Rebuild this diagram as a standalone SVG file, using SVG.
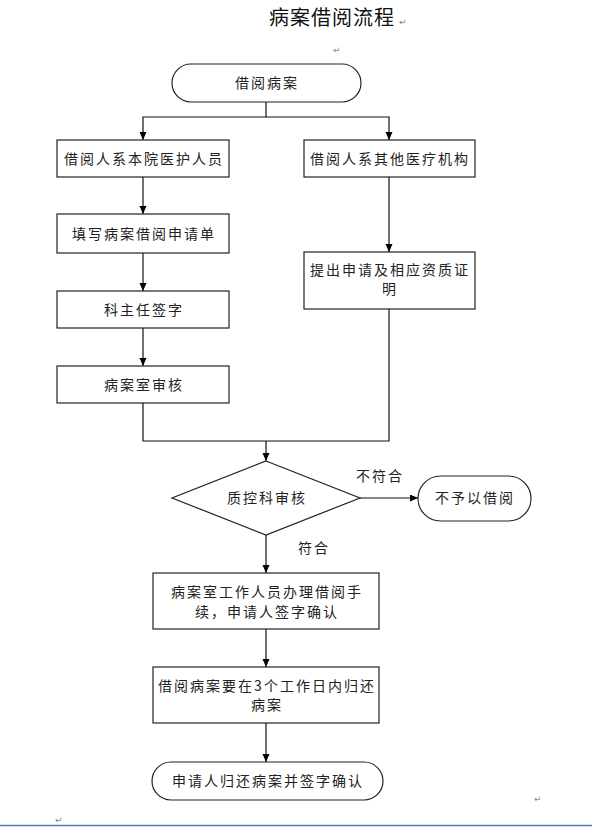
<svg xmlns="http://www.w3.org/2000/svg" width="592" height="827" viewBox="0 0 592 827">
<style>
.n{fill:#fff;stroke:#222;stroke-width:1.2}
.t{font-family:"Noto Sans CJK SC","Liberation Sans",sans-serif;font-size:14px;fill:#222;text-anchor:middle;letter-spacing:2px}
.c{fill:none;stroke:#111;stroke-width:1.2}
.pm{font-family:"DejaVu Sans",sans-serif;font-size:9px;fill:#888}
</style>
<defs>
<marker id="ah" markerWidth="8" markerHeight="8" refX="8" refY="3.5" orient="auto" markerUnits="userSpaceOnUse">
<path d="M0,0 L8,3.5 L0,7 z" fill="#000"/>
</marker>
</defs>
<rect width="592" height="827" fill="#fff"/>
<text x="332" y="25" font-family="Noto Sans CJK SC,sans-serif" font-size="20" text-anchor="middle" letter-spacing="1" fill="#111">病案借阅流程</text>
<text class="pm" x="399" y="25">↵</text>
<text class="pm" x="333" y="53">↵</text>
<text class="pm" x="534" y="802">↵</text>
<text class="pm" x="55" y="823">↵</text>
<line x1="0" y1="825.5" x2="592" y2="825.5" stroke="#4f81bd" stroke-width="1.5"/>
<g id="connectors">
<path class="c" d="M266 102 V117 H143 V140" marker-end="url(#ah)"/>
<path class="c" d="M266 117 H389 V140" marker-end="url(#ah)"/>
<path class="c" d="M143 177 V214" marker-end="url(#ah)"/>
<path class="c" d="M143 253 V291" marker-end="url(#ah)"/>
<path class="c" d="M143 328 V366" marker-end="url(#ah)"/>
<path class="c" d="M389 177 V252" marker-end="url(#ah)"/>
<path class="c" d="M143 403 V441 H389 V309"/>
<path class="c" d="M266 441 V461" marker-end="url(#ah)"/>
<path class="c" d="M360 498 H418" marker-end="url(#ah)"/>
<path class="c" d="M266 535 V573" marker-end="url(#ah)"/>
<path class="c" d="M266 629 V667" marker-end="url(#ah)"/>
<path class="c" d="M266 723 V762" marker-end="url(#ah)"/>
<text class="t" x="380" y="481">不符合</text>
<text class="t" x="314" y="553">符合</text>
</g>
<g id="start"><rect class="n" x="172" y="64" width="189" height="38" rx="19"/><text class="t" x="267" y="88">借阅病案</text></g>
<g id="internal"><rect class="n" x="57" y="140" width="172" height="37"/><text class="t" x="144" y="163.5">借阅人系本院医护人员</text></g>
<g id="external"><rect class="n" x="304" y="140" width="171" height="37"/><text class="t" x="390" y="163.5">借阅人系其他医疗机构</text></g>
<g id="fill-form"><rect class="n" x="57" y="214" width="172" height="39"/><text class="t" x="144" y="238.5">填写病案借阅申请单</text></g>
<g id="director-sign"><rect class="n" x="57" y="291" width="172" height="37"/><text class="t" x="144" y="314.5">科主任签字</text></g>
<g id="record-review"><rect class="n" x="57" y="366" width="172" height="37"/><text class="t" x="144" y="389.5">病案室审核</text></g>
<g id="apply-cert"><rect class="n" x="304" y="252" width="171" height="57"/><text class="t" x="390" y="275">提出申请及相应资质证</text><text class="t" x="390" y="294">明</text></g>
<g id="qc-review"><polygon class="n" points="266,461 360,498 266,535 172,498"/><text class="t" x="267" y="503">质控科审核</text></g>
<g id="deny"><rect class="n" x="418" y="476" width="113" height="45" rx="22.5"/><text class="t" x="475" y="503">不予以借阅</text></g>
<g id="process"><rect class="n" x="153" y="573" width="226" height="56"/><text class="t" x="267" y="597">病案室工作人员办理借阅手</text><text class="t" x="267" y="617">续，申请人签字确认</text></g>
<g id="return-limit"><rect class="n" x="153" y="667" width="226" height="56"/><text class="t" x="267" y="691">借阅病案要在3个工作日内归还</text><text class="t" x="267" y="710">病案</text></g>
<g id="end"><rect class="n" x="152" y="762" width="231" height="38" rx="19"/><text class="t" x="268" y="786">申请人归还病案并签字确认</text></g>
</svg>
